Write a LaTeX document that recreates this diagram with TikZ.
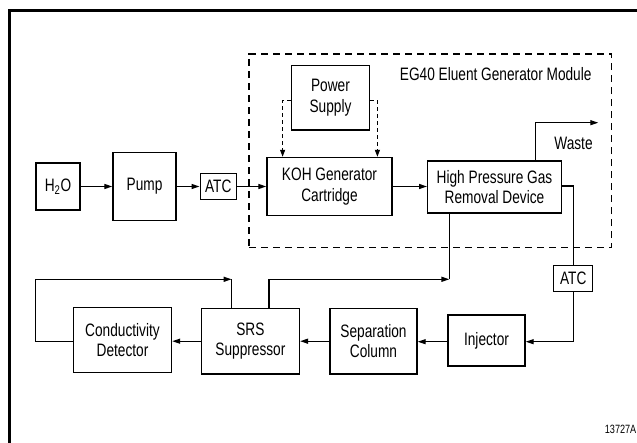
\documentclass[tikz,border=0pt]{standalone}
\usepackage{fontspec}
\setmainfont{Liberation Sans}[FakeStretch=0.76]
\usetikzlibrary{arrows.meta,calc}
\tikzset{
  box/.style={draw, line width=1.4pt, inner sep=0pt, align=center, font=\fontsize{18}{20.5}\selectfont},
  lbl/.style={inner sep=0pt, font=\fontsize{18}{20.5}\selectfont},
  arr/.style={line width=1.3pt, -{Triangle[length=8pt,width=5pt]}},
  ln/.style={line width=1.3pt},
  pwr/.style={line width=1.1pt, dash pattern=on 4pt off 3pt, -{Triangle[length=7pt,width=5pt]}},
  modbox/.style={draw, line width=1.3pt, dash pattern=on 7pt off 5pt, inner sep=0pt}
}
\begin{document}
\begin{tikzpicture}[x=1pt,y=-1pt]
\useasboundingbox (0,0) rectangle (637,443);
\clip (0,0) rectangle (637,443);
\fill[white] (0,0) rectangle (637,443);
% outer frame (right and bottom edges lie outside the picture)
\draw[line width=2.5pt] (9.3,460) -- (9.3,10.3) -- (660,10.3);
% module outline
\node[modbox, minimum width=362.5pt, minimum height=193.7pt] (module) at (430.25,150.85) {};
\node[lbl] (modlabel) at (495.7,74) {EG40 Eluent Generator Module};
% boxes
\node[box, minimum width=44pt, minimum height=47pt] (h2o) at (58,186.5) {H\textsubscript{2}O};
\node[box, minimum width=63pt, minimum height=68pt] (pump) at (144.5,186.5) {Pump};
\node[box, minimum width=36pt, minimum height=26pt] (atc1) at (218.2,186.5) {ATC};
\node[box, minimum width=125pt, minimum height=58pt] (koh) at (329.5,186.5) {KOH Generator\\Cartridge};
\node[box, minimum width=133.6pt, minimum height=51.7pt] (hpgrd) at (494.5,187) {High Pressure Gas\\Removal Device};
\node[box, minimum width=77.6pt, minimum height=64.3pt] (power) at (330.5,97.8) {Power\\Supply};
\node[box, minimum width=39pt, minimum height=25.6pt] (atc2) at (573.2,278.5) {ATC};
\node[box, minimum width=77pt, minimum height=51pt] (inj) at (486.5,340.7) {Injector};
\node[box, minimum width=87pt, minimum height=65.7pt] (sep) at (373.5,341.2) {Separation\\Column};
\node[box, minimum width=98pt, minimum height=65.7pt] (srs) at (250.4,341.2) {SRS\\Suppressor};
\node[box, minimum width=98pt, minimum height=65.4pt] (cd) at (122.5,340) {Conductivity\\Detector};
\node[lbl] (waste) at (573.5,143.5) {Waste};
\node[inner sep=0pt, anchor=east, font=\fontsize{12}{13}\selectfont] (fignum) at (636.5,429.5) {13727A};
% coordinates
\coordinate (wastetip) at (598.3,122.7);
\coordinate (rcorner) at (449.4,279.3);
\coordinate (lcorner) at (231.6,279.3);
\coordinate (lleft) at (35.3,279.3);
% main row
\draw[arr] (h2o.east) -- (h2o.east -| pump.west);
\draw[arr] (pump.east) -- (pump.east -| atc1.west);
\draw[arr] (atc1.east) -- (atc1.east -| koh.west);
\draw[arr] (koh.east) -- (koh.east -| hpgrd.west);
% power supply
\draw[pwr] ([yshift=-3pt]power.west) -| ([xshift=16.3pt]koh.north west);
\draw[pwr] ([yshift=-3pt]power.east) -| ([xshift=-15.3pt]koh.north east);
% waste
\draw[arr] ([xshift=41.2pt]hpgrd.north) |- (wastetip);
% to ATC and injector
\draw[ln] ([yshift=1pt]hpgrd.east) -| (atc2.north);
\draw[arr] (atc2.south) |- ([yshift=-1pt]inj.east);
% bottom row
\draw[arr] ([yshift=-1pt]inj.west) -- ([yshift=-1pt]inj.west -| sep.east);
\draw[arr] (sep.west) -- (sep.west -| srs.east);
\draw[arr] (srs.west) -- (srs.west -| cd.east);
% suppressor regenerant to gas removal device
\draw[arr] ([xshift=18.7pt]srs.north) |- (rcorner);
\draw[ln] (rcorner) -- (rcorner |- hpgrd.south);
% detector loop back to suppressor
\draw[arr] ([yshift=-1.5pt]cd.west) -| (lleft) -- (lcorner);
\draw[ln] (lcorner) -- (lcorner |- srs.north);
\end{tikzpicture}
\end{document}
